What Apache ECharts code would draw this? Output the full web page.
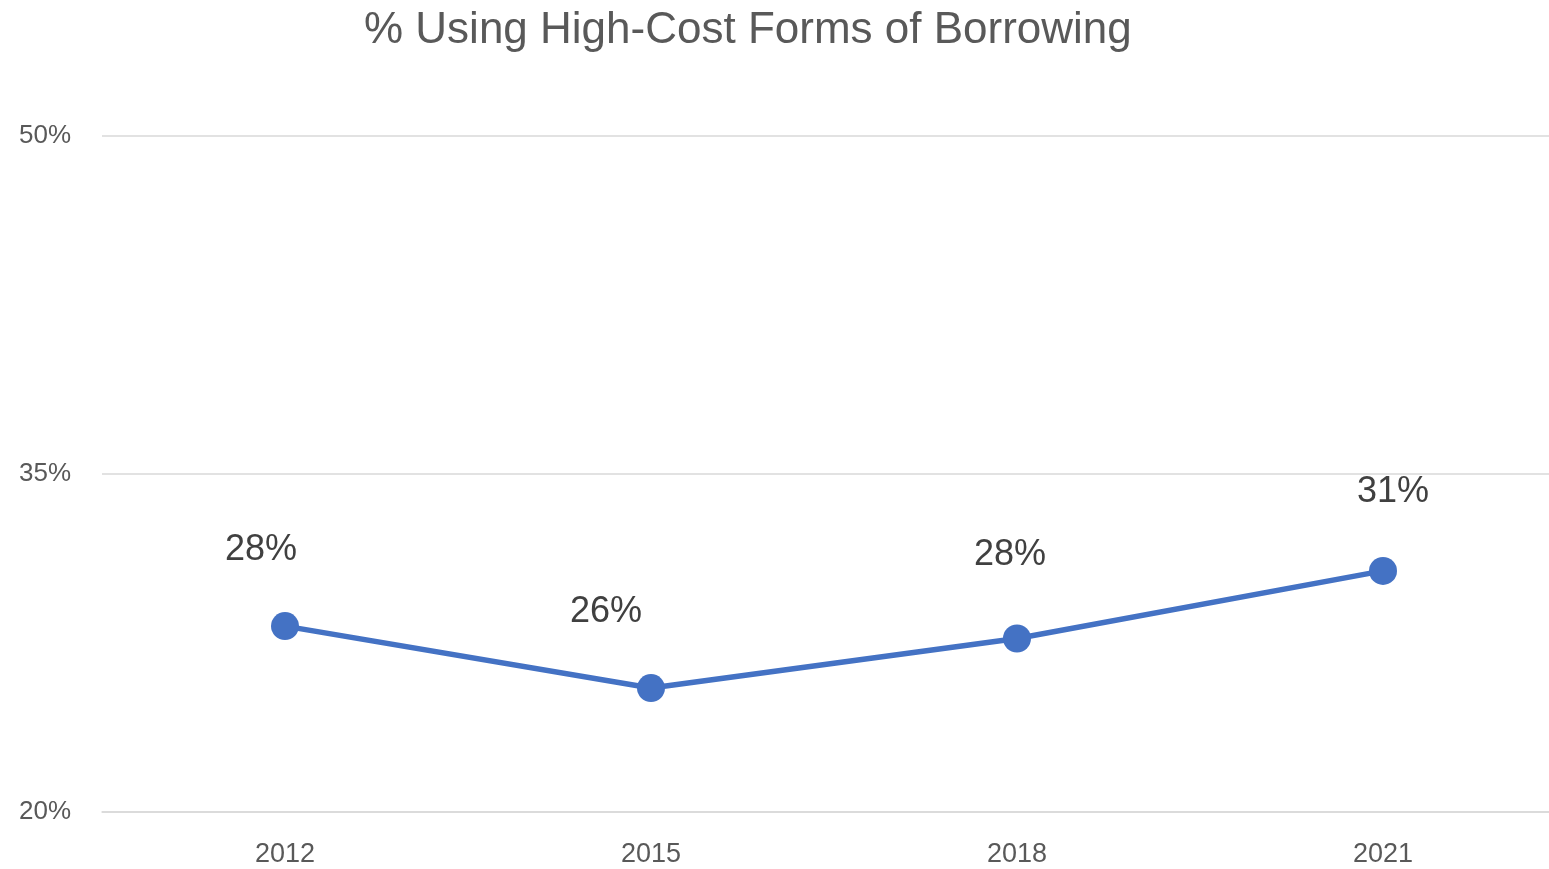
<!DOCTYPE html>
<html>
<head>
<meta charset="utf-8">
<script src="https://cdn.jsdelivr.net/npm/echarts@6/dist/echarts.min.js"></script>
<style>
html,body{margin:0;padding:0;background:#fff;overflow:hidden;width:1549px;height:869px;}
#chart{width:1566px;height:869px;}
</style>
</head>
<body>
<div id="chart"></div>
<script>
const categories = ['2012', '2015', '2018', '2021'];
const values = [28.25, 25.5, 27.7, 30.7];
const yTicks = [20, 35, 50];

const labelOffsets = [[-24, -76], [-45, -76], [-7, -83], [10, -79]];

const chart = echarts.init(document.getElementById('chart'));
const FONT = '"Liberation Sans", Arial, sans-serif';
chart.setOption({
  animation: false,
  backgroundColor: '#ffffff',
  title: {
    text: '% Using High-Cost Forms of Borrowing',
    left: 359,
    top: 4,
    textStyle: { fontFamily: FONT, fontSize: 44, fontWeight: 'normal', color: '#595959' }
  },
  grid: { left: 102, right: 0, top: 136, bottom: 57, containLabel: false },
  xAxis: {
    type: 'category',
    data: categories,
    boundaryGap: true,
    axisLine: { show: true, lineStyle: { color: '#d9d9d9', width: 1.5 } },
    axisTick: { show: false },
    axisLabel: { fontFamily: FONT, fontSize: 27, color: '#595959', margin: 29 }
  },
  yAxis: {
    type: 'value',
    min: yTicks[0],
    max: yTicks[yTicks.length - 1],
    interval: yTicks[1] - yTicks[0],
    axisLine: { show: false },
    axisTick: { show: false },
    splitLine: { lineStyle: { color: '#d9d9d9', width: 1.5 } },
    axisLabel: { fontFamily: FONT, fontSize: 26, color: '#595959', margin: 31, formatter: '{value}%' }
  },
  series: [{
    type: 'line',
    data: values.map((v, i) => ({
      value: v,
      label: { offset: labelOffsets[i] }
    })),
    symbol: 'circle',
    symbolSize: 28,
    lineStyle: { color: '#4472C4', width: 5.5 },
    itemStyle: { color: '#4472C4' },
    label: {
      show: true,
      position: 'inside',
      fontFamily: FONT,
      fontSize: 36,
      color: '#404040',
      formatter: p => Math.round(p.value) + '%'
    }
  }]
});
</script>
</body>
</html>
